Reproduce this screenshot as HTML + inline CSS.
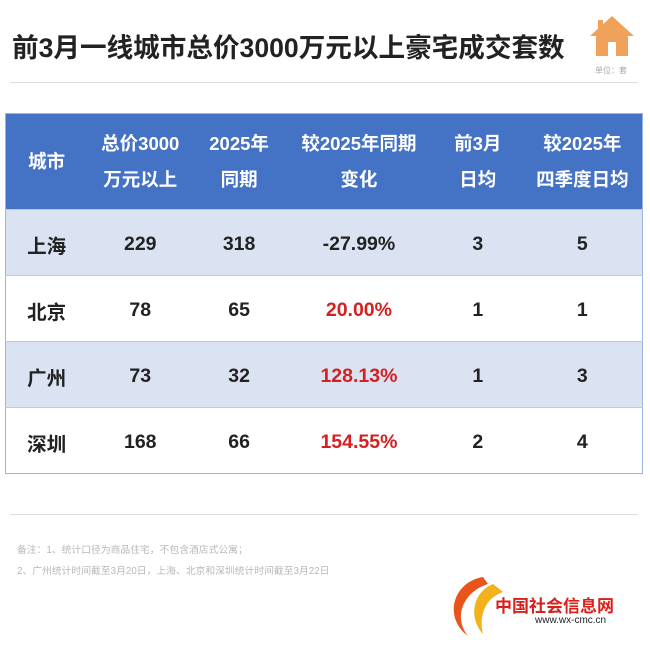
<!DOCTYPE html>
<html><head><meta charset="utf-8"><style>
body{margin:0;width:650px;height:648px;background:#fff;position:relative;overflow:hidden;font-family:"Liberation Sans","Noto Sans CJK SC",sans-serif}
.t{position:absolute;left:12px;top:26px;font-size:26.6px;font-weight:bold;color:#222;white-space:nowrap}
.hr{position:absolute;left:10px;width:628px;height:1px;background:#ddd}
table{position:absolute;left:5px;top:113px;width:638px;border-collapse:collapse;border:1px solid #9cb5e0}
td{text-align:center;font-size:19.5px;font-weight:bold;color:#222;padding:0}
tr.h td{background:#4472c4;color:#fff;height:95px;line-height:36px;font-size:18.5px}
tr.r td{height:62px;border-top:1px solid #b8c9e8;padding-top:3px}
tr.a td{background:#dbe3f3}
.red{color:#d42020}
.n{position:absolute;left:17px;font-size:9.8px;color:#b8b8b8;white-space:nowrap}
</style></head><body>
<div class="t">前3月一线城市总价3000万元以上豪宅成交套数</div>
<svg style="position:absolute;left:588px;top:14px" width="48" height="44" viewBox="0 0 48 44"><path d="M24 2 L46 22 L40 22 L40 42 L8 42 L8 22 L2 22 Z" fill="#f0a25a"/><rect x="20" y="28" width="8" height="14" fill="#fff"/><rect x="10" y="6" width="5" height="10" fill="#f0a25a"/></svg>
<div style="position:absolute;left:595px;top:65px;font-size:8px;color:#aaa">单位：套</div>
<div class="hr" style="top:82px"></div>
<table>
<colgroup><col style="width:82px"><col style="width:106px"><col style="width:92px"><col style="width:148px"><col style="width:90px"><col style="width:120px"></colgroup>
<tr class="h"><td>城市</td><td>总价3000<br>万元以上</td><td>2025年<br>同期</td><td>较2025年同期<br>变化</td><td>前3月<br>日均</td><td>较2025年<br>四季度日均</td></tr>
<tr class="r a"><td>上海</td><td>229</td><td>318</td><td>-27.99%</td><td>3</td><td>5</td></tr>
<tr class="r"><td>北京</td><td>78</td><td>65</td><td class="red">20.00%</td><td>1</td><td>1</td></tr>
<tr class="r a"><td>广州</td><td>73</td><td>32</td><td class="red">128.13%</td><td>1</td><td>3</td></tr>
<tr class="r"><td>深圳</td><td>168</td><td>66</td><td class="red">154.55%</td><td>2</td><td>4</td></tr>
</table>
<div class="hr" style="top:514px"></div>
<div class="n" style="top:542px">备注：1、统计口径为商品住宅，不包含酒店式公寓；</div>
<div class="n" style="top:563px">2、广州统计时间截至3月20日，上海、北京和深圳统计时间截至3月22日</div>
<svg style="position:absolute;left:443px;top:572px" width="70" height="70" viewBox="0 0 70 70"><path d="M40 5 C10 10 0 45 25 64 C10 45 20 20 45 12 Z" fill="#e8541c"/><path d="M50 12 C30 20 25 45 40 62 C35 40 45 25 60 20 Z" fill="#f3b21b"/></svg>
<div style="position:absolute;left:495px;top:592px;font-size:17px;font-weight:bold;color:#d9201a;white-space:nowrap">中国社会信息网</div>
<div style="position:absolute;left:535px;top:615px;font-size:10px;color:#222;white-space:nowrap">www.wx-cmc.cn</div>
</body></html>
